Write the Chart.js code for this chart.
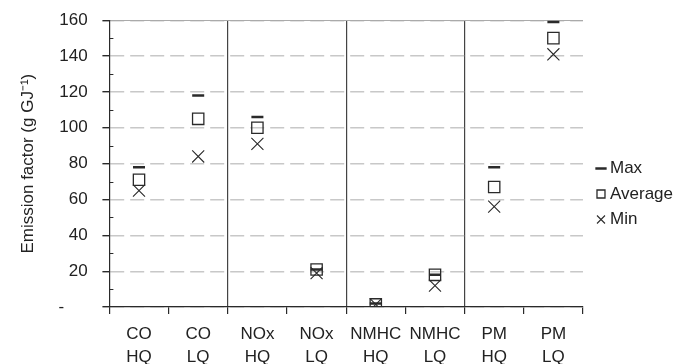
<!DOCTYPE html>
<html>
<head>
<meta charset="utf-8">
<script src="https://cdn.jsdelivr.net/npm/chart.js@4.4.0/dist/chart.umd.min.js"></script>
<style>
  html, body { margin: 0; background: #fff; overflow: hidden; }
  #wrap { width: 674px; height: 378px; }
</style>
</head>
<body>
<div id="wrap"><canvas id="emChart"></canvas></div>
<script>
const categories = [['CO', 'HQ'], ['CO', 'LQ'], ['NOx', 'HQ'], ['NOx', 'LQ'],
                    ['NMHC', 'HQ'], ['NMHC', 'LQ'], ['PM', 'HQ'], ['PM', 'LQ']];
const maxValues = [78, 118, 106, 21, 2, 18, 78, 159];
const avgValues = [71, 105, 100, 21, 1.5, 18, 67, 150];
const minValues = [65, 84, 91, 19, 1.5, 12, 56, 141];
const yTicks = [0, 20, 40, 60, 80, 100, 120, 140, 160];

const ink = '#2a2a2a';
const font = { family: 'Liberation Sans, Arial', size: 17 };

// small inward ticks at the odd tens on the y axis
const minorTicks = {
  id: 'minorTicks',
  afterDraw(chart) {
    const y = chart.scales.y, ctx = chart.ctx;
    ctx.save();
    ctx.strokeStyle = ink;
    ctx.lineWidth = 1;
    for (let v = 10; v < 160; v += 20) {
      const py = Math.round(y.getPixelForValue(v)) + 0.5;
      ctx.beginPath();
      ctx.moveTo(y.right, py);
      ctx.lineTo(y.right + 4, py);
      ctx.stroke();
    }
    ctx.restore();
  }
};

// nudge the legend a bit right/down, like the original
const legendNudge = {
  id: 'legendNudge',
  afterLayout(chart) {
    const lg = chart.legend;
    lg.left += 9; lg.right += 9;
    lg.top += 3; lg.bottom += 3;
  }
};

const ctx = document.getElementById('emChart');

new Chart(ctx, {
  type: 'line',
  data: {
    labels: categories,
    datasets: [{
      label: 'Max',
      data: maxValues,
      showLine: false,
      pointStyle: 'line',
      pointRadius: 6,
      pointHoverRadius: 6,
      pointBorderWidth: 2.5,
      borderColor: ink,
      backgroundColor: ink
    }, {
      label: 'Average',
      data: avgValues,
      showLine: false,
      pointStyle: 'rect',
      pointRadius: 8,
      pointHoverRadius: 8,
      pointBorderWidth: 1.3,
      borderColor: ink,
      backgroundColor: 'rgba(255,255,255,0)'
    }, {
      label: 'Min',
      data: minValues,
      showLine: false,
      pointStyle: 'crossRot',
      pointRadius: 8.5,
      pointHoverRadius: 8.5,
      pointBorderWidth: 1.1,
      borderColor: ink,
      backgroundColor: ink
    }]
  },
  options: {
    responsive: true,
    maintainAspectRatio: false,
    animation: false,
    layout: { padding: { top: 4, right: 0, bottom: 0, left: 14 } },
    plugins: {
      tooltip: { enabled: false },
      legend: {
        position: 'right',
        align: 'center',
        labels: {
          usePointStyle: true,
          boxWidth: 1,
          boxHeight: 8,
          padding: 8.5,
          color: '#222',
          font: font
        }
      }
    },
    scales: {
      x: {
        offset: true,
        grid: {
          offset: true,
          color: c => (c.index === 2 || c.index === 4 || c.index === 6) ? '#444' :
                      (c.index === 8 ? '#aaa' : 'rgba(0,0,0,0)'),
          lineWidth: 1.2,
          tickColor: ink,
          tickLength: 7
        },
        border: { color: ink, width: 1.2 },
        ticks: {
          color: '#222',
          maxRotation: 0,
          autoSkip: false,
          font: { family: 'Liberation Sans, Arial', size: 17, lineHeight: 1.35 },
          padding: 9
        }
      },
      xTop: {
        position: 'top',
        grid: { display: false },
        ticks: { display: false },
        border: { color: '#aaa', width: 1 }
      },
      y: {
        min: 0,
        max: 160,
        afterBuildTicks: axis => { axis.ticks = yTicks.map(v => ({ value: v })); },
        grid: {
          color: '#c8c8c8',
          lineWidth: 1.4,
          tickColor: ink,
          tickLength: 7
        },
        border: { color: ink, width: 1.2, dash: [14, 6] },
        ticks: {
          color: '#222',
          padding: 10,
          font: font,
          callback: v => v === 0 ? '-      ' : v + ' '
        },
        title: {
          display: true,
          text: 'Emission factor (g GJ\u207B\u00B9)',
          color: '#222',
          font: font,
          padding: { bottom: 10 }
        }
      }
    }
  },
  plugins: [minorTicks, legendNudge]
});
</script>
</body>
</html>
